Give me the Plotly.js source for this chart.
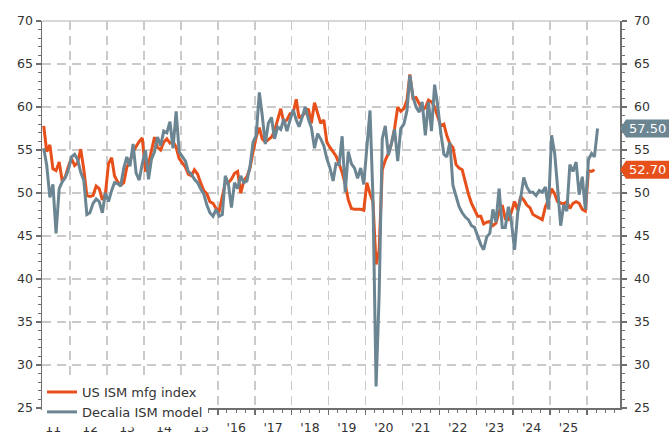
<!DOCTYPE html>
<html><head><meta charset="utf-8">
<script src="https://cdn.plot.ly/plotly-3.0.1.min.js"></script>
<style>html,body{margin:0;padding:0;background:#fff}#chart{width:669px;height:439px}</style>
</head><body><div id="chart"></div>
<script>
// Monthly series, first month = April 2011
const startYear = 2011;
const startMonthIndex = 3; // April (0-based)

const usIsm = [
  57.8, 54.8, 55.6, 52.8, 52.6, 53.6, 51.4, 51.9, 53.1,
  54.0, 53.2, 53.5, 55.1, 52.8, 49.7, 49.6, 49.7, 50.8, 50.5, 49.2, 49.9,
  53.4, 54.1, 52.0, 51.3, 50.9, 51.2, 53.0, 53.7, 54.8, 55.4, 56.0, 56.4,
  52.5, 53.4, 55.0, 56.5, 55.3, 55.0, 55.9, 56.3, 55.8, 56.0, 55.3, 54.0,
  53.5, 53.0, 52.2, 52.0, 52.7, 52.2, 51.2, 50.3, 49.9, 49.0, 48.8, 48.2,
  47.9, 49.6, 51.2, 51.2, 51.6, 52.3, 52.5, 50.0, 51.4, 51.9, 52.9, 54.8,
  56.5, 57.6, 56.3, 55.9, 56.2, 56.5, 57.2, 58.4, 59.8, 58.2, 58.5, 59.2,
  59.3, 60.9, 58.7, 59.0, 59.3, 59.8, 58.1, 60.5, 59.2, 58.1, 58.5, 55.9,
  55.3, 54.8, 54.3, 53.4, 52.4, 51.0, 49.2, 48.2, 48.1, 48.1, 48.1, 48.0,
  51.2, 49.9, 49.0, 41.7, 43.3, 52.7, 53.8, 54.6, 55.8, 57.5, 60.0, 59.5,
  59.8, 60.8, 63.8, 61.0, 61.1, 60.4, 59.7, 59.9, 60.8, 60.6, 60.0, 58.9,
  57.8, 58.0, 56.7, 55.7, 55.3, 53.3, 52.9, 52.7, 51.1, 49.9, 48.8, 48.0,
  47.3, 47.3, 46.4, 46.6, 46.7, 46.2, 46.5, 47.8, 48.6, 47.0, 46.9, 47.8,
  49.0, 48.0, 49.6, 49.2, 48.6, 48.3, 47.5, 47.3, 47.1, 46.9, 48.4, 49.2,
  50.5, 49.9, 49.0, 48.8, 48.7, 49.0, 48.2, 48.8, 49.0, 48.8, 48.1, 47.9,
  52.6, 52.5, 52.7
];

const decaliaModel = [
  55.2, 53.2, 49.5, 51.0, 45.3, 50.5, 51.3, 51.8, 52.7,
  54.2, 54.5, 53.9, 52.4, 51.5, 47.5, 47.7, 48.8, 49.3, 49.0, 47.7, 50.0,
  49.0, 50.3, 51.2, 51.1, 50.8, 52.9, 54.2, 53.1, 55.7, 52.3, 51.5, 53.4,
  55.0, 51.6, 53.9, 54.8, 56.5, 55.5, 57.2, 57.0, 58.3, 55.2, 59.5, 54.8,
  54.2, 53.7, 52.5, 52.2, 51.6, 51.2, 50.5, 49.9, 48.6, 47.7, 47.3, 48.1,
  47.3, 47.5, 52.0, 51.0, 48.3, 51.2, 50.5, 52.0, 51.2, 51.4, 53.1, 55.9,
  56.7, 61.7, 59.1, 55.7, 58.1, 58.8, 56.3, 57.7, 57.4, 58.6, 57.2, 58.6,
  59.7, 58.5, 57.7, 58.8, 60.0, 58.6, 57.6, 55.2, 56.9, 56.3, 55.5, 54.0,
  52.9, 51.4, 53.4, 53.3, 56.6, 50.1, 54.8, 53.4, 52.9, 51.7, 52.9, 51.0,
  55.5, 59.6, 49.5, 27.5, 38.0, 56.3, 57.8, 54.4, 55.8, 57.4, 53.7, 57.5,
  58.0, 59.6, 63.7, 61.2, 60.0, 59.4, 60.6, 56.7, 60.6, 57.2, 62.6, 60.2,
  57.0, 54.5, 54.2, 55.9, 50.9, 49.6, 48.4, 47.7, 47.2, 46.9, 46.2, 46.0,
  44.9, 44.0, 43.4, 44.9, 45.3, 48.1, 46.6, 50.5, 46.0, 46.0, 48.4, 46.6,
  43.4, 47.7, 49.4, 51.8, 50.7, 50.1, 50.1, 49.7, 50.3, 50.1, 50.7, 48.1,
  56.7, 54.6, 50.7, 46.2, 48.6, 47.9, 53.3, 52.5, 53.6, 49.8, 51.9, 48.1,
  53.9, 54.6, 54.2, 57.5
];

const seriesNames = ['US ISM mfg index', 'Decalia ISM model'];
const labelYears = [2011, 2012, 2013, 2014, 2015, 2016, 2017, 2018, 2019, 2020, 2021, 2022, 2023, 2024, 2025];
const yearTickLabels = ["'11", "'12", "'13", "'14", "'15", "'16", "'17", "'18", "'19", "'20", "'21", "'22", "'23", "'24", "'25"];
const yTickVals = [25, 30, 35, 40, 45, 50, 55, 60, 65, 70];

function monthDate(i) {
  const d = new Date(Date.UTC(startYear, startMonthIndex + i, 15));
  return d.toISOString().slice(0, 10);
}
const datesIsm = usIsm.map((_, i) => monthDate(i));
const datesModel = decaliaModel.map((_, i) => monthDate(i));
const labelDates = labelYears.map(y => y + '-07-01');

const ORANGE = '#e8501b';
const GRAY = '#6b8592';
const AXIS = '#6e6e6e';
const GRID = '#cacaca';
const TXT = '#333333';
const FONT = 'DejaVu Sans, sans-serif';
const xRange = ['2011-03-29', '2026-11-23'];
const yRange = [25, 70];

const traces = [
  {type: 'scatter', mode: 'lines', name: seriesNames[0], x: datesIsm, y: usIsm,
   line: {color: ORANGE, width: 3}},
  {type: 'scatter', mode: 'lines', name: seriesNames[1], x: datesModel, y: decaliaModel,
   line: {color: GRAY, width: 3}},
  {type: 'scatter', mode: 'lines', x: [], y: [], xaxis: 'x2', yaxis: 'y', showlegend: false, hoverinfo: 'skip'},
  {type: 'scatter', mode: 'lines', x: [], y: [], xaxis: 'x', yaxis: 'y2', showlegend: false, hoverinfo: 'skip'}
];

const lastIsm = usIsm[usIsm.length - 1];
const lastModel = decaliaModel[decaliaModel.length - 1];

function tagShape(v, color) {
  return {type: 'path', xref: 'paper', yref: 'paper', xsizemode: 'pixel', ysizemode: 'pixel',
    xanchor: 1, yanchor: (v - yRange[0]) / (yRange[1] - yRange[0]),
    path: 'M0,0 L6,-9 L70,-9 L70,9 L6,9 Z', fillcolor: color, line: {width: 0}, layer: 'above'};
}
function tagText(v) {
  return {xref: 'paper', yref: 'y', x: 1, y: v, xanchor: 'left', yanchor: 'middle', xshift: 7,
    text: v.toFixed(2), showarrow: false, font: {family: FONT, size: 13, color: '#ffffff'}};
}

const yCommon = {
  range: yRange, tickmode: 'array', tickvals: yTickVals, ticks: 'outside', ticklen: 5,
  tickwidth: 1.5, tickcolor: AXIS, showline: true, linecolor: AXIS, linewidth: 1.5,
  zeroline: false, tickfont: {family: FONT, size: 12.5, color: TXT},
  minor: {dtick: 1, tick0: 25, ticks: 'outside', ticklen: 3, tickwidth: 1, tickcolor: AXIS, showgrid: false}
};

const layout = {
  width: 669, height: 439,
  margin: {l: 42, r: 49, t: 21, b: 17, pad: 0},
  paper_bgcolor: '#ffffff', plot_bgcolor: '#ffffff',
  font: {family: FONT, size: 12, color: TXT},
  showlegend: true,
  legend: {x: 0.0, y: 0.08, xanchor: 'left', yanchor: 'top', bgcolor: '#ffffff',
    borderwidth: 0, font: {family: FONT, size: 13, color: TXT}, tracegroupgap: 0},
  xaxis: {type: 'date', range: xRange, tickmode: 'linear', tick0: '2012-01-01', dtick: 'M12',
    showticklabels: false, showgrid: true, gridcolor: GRID, gridwidth: 1.5, griddash: '9px,6px',
    ticks: 'outside', ticklen: 5, tickwidth: 1.5, tickcolor: AXIS,
    showline: true, linecolor: AXIS, linewidth: 1.5, zeroline: false,
    minor: {dtick: 'M3', tick0: '2011-01-01', ticks: 'outside', ticklen: 3, tickwidth: 1, tickcolor: AXIS, showgrid: false}},
  xaxis2: {type: 'date', overlaying: 'x', anchor: 'y', side: 'bottom', range: xRange,
    tickmode: 'array', tickvals: labelDates, ticktext: yearTickLabels,
    ticks: 'outside', ticklen: 8, tickcolor: 'rgba(0,0,0,0)', showgrid: false, showline: false, zeroline: false,
    tickfont: {family: FONT, size: 12.5, color: TXT}},
  yaxis: Object.assign({}, yCommon, {showgrid: true, gridcolor: GRID, gridwidth: 1.5, griddash: '9px,6px'}),
  yaxis2: Object.assign({}, yCommon, {overlaying: 'y', side: 'right', anchor: 'x', showgrid: false, ticklabelstandoff: 5}),
  shapes: [
    {type: 'line', xref: 'paper', yref: 'paper', x0: 0, x1: 1, y0: 1, y1: 1, line: {color: GRID, width: 1.5}},
    tagShape(lastModel, GRAY),
    tagShape(lastIsm, ORANGE)
  ],
  annotations: [tagText(lastModel), tagText(lastIsm)]
};

Plotly.newPlot('chart', traces, layout, {displayModeBar: false, staticPlot: true});
</script>
</body></html>
